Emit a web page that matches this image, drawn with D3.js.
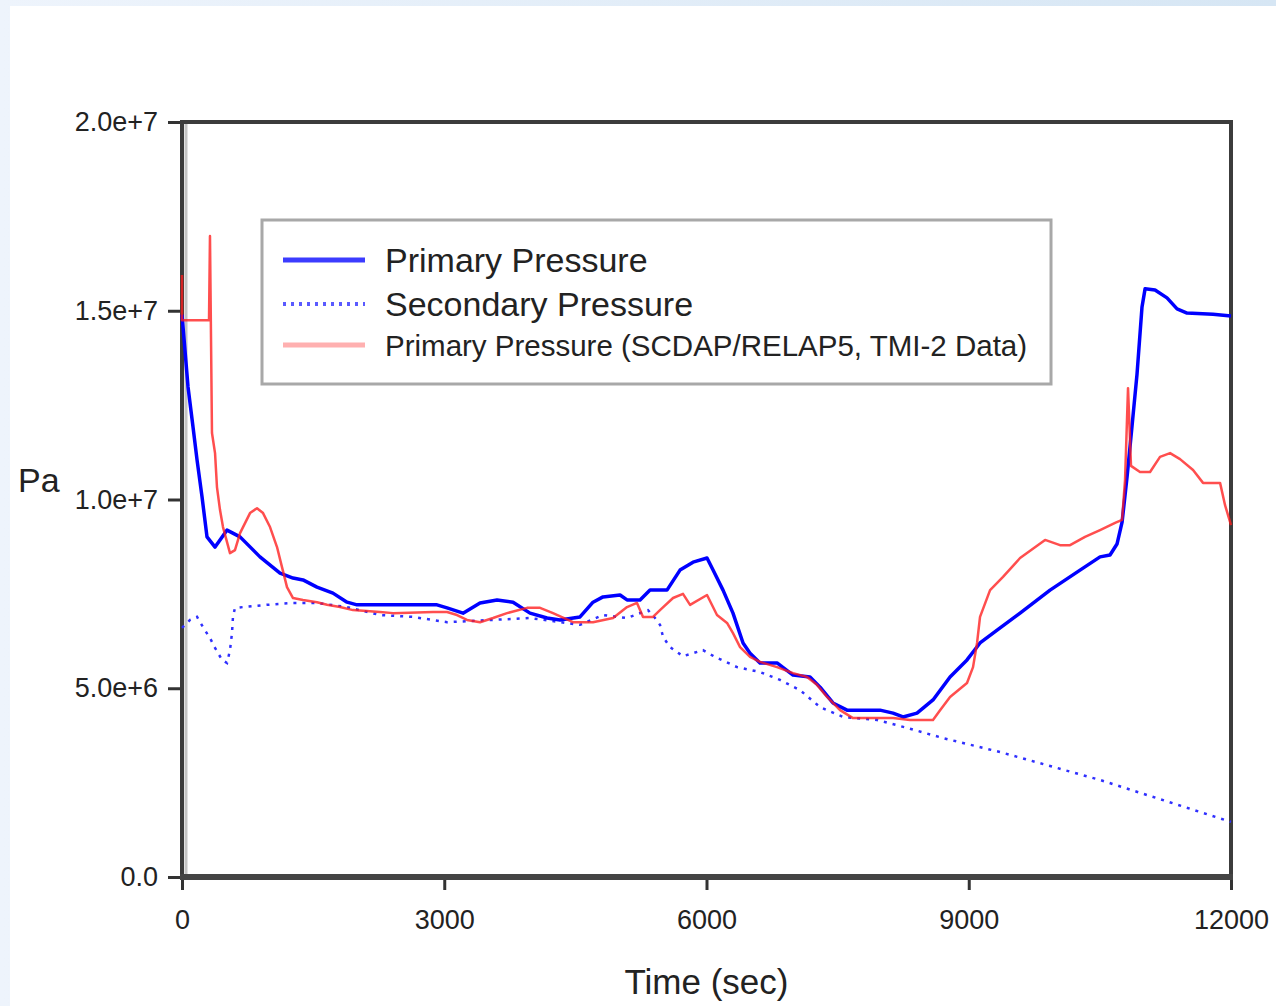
<!DOCTYPE html>
<html>
<head>
<meta charset="utf-8">
<script src="https://cdn.jsdelivr.net/npm/d3@7"></script>
<style>
  body { margin: 0; background: linear-gradient(90deg, #eef4fc, #d6e6f4); }
  #svgcontainer { width: 1276px; height: 1006px; }
  text { font-family: "Liberation Sans", Arial, sans-serif; fill: #222; }
</style>
</head>
<body>
<div id="svgcontainer"></div>
<script>
// values: [time (s), pressure (Pa)]
var primaryPressure = [
    [0, 14.9e6], [69, 12.98e6], [126, 11.92e6], [172, 11.05e6], [229, 10.07e6], [286, 9.01e6],
    [378, 8.74e6], [435, 8.93e6], [515, 9.19e6], [664, 9.01e6], [892, 8.48e6], [1121, 8.05e6],
    [1270, 7.92e6], [1384, 7.87e6], [1544, 7.68e6], [1727, 7.52e6], [1888, 7.28e6], [2002, 7.21e6],
    [2643, 7.21e6], [2917, 7.21e6], [3032, 7.13e6], [3215, 6.99e6], [3409, 7.26e6], [3604, 7.34e6],
    [3787, 7.28e6], [3981, 6.99e6], [4176, 6.86e6], [4324, 6.81e6], [4553, 6.89e6], [4702, 7.28e6],
    [4816, 7.42e6], [5011, 7.47e6], [5091, 7.34e6], [5240, 7.34e6], [5354, 7.60e6], [5548, 7.60e6],
    [5697, 8.13e6], [5846, 8.34e6], [6006, 8.45e6], [6075, 8.13e6], [6189, 7.60e6], [6303, 6.99e6],
    [6418, 6.20e6], [6498, 5.93e6], [6612, 5.67e6], [6807, 5.67e6], [6990, 5.35e6], [7184, 5.30e6],
    [7299, 5.03e6], [7447, 4.61e6], [7608, 4.42e6], [7985, 4.42e6], [8134, 4.34e6], [8248, 4.24e6],
    [8408, 4.34e6], [8591, 4.69e6], [8786, 5.30e6], [8980, 5.75e6], [9129, 6.20e6], [9324, 6.54e6],
    [9587, 6.99e6], [9930, 7.60e6], [10273, 8.13e6], [10502, 8.48e6], [10616, 8.53e6], [10696, 8.82e6],
    [10754, 9.40e6], [10811, 10.6e6], [10868, 11.95e6], [10925, 13.32e6], [10982, 15.1e6], [11017, 15.58e6],
    [11131, 15.55e6], [11268, 15.34e6], [11383, 15.05e6], [11497, 14.94e6], [11794, 14.91e6], [12000, 14.86e6]
];

var secondaryPressure = [
    [0, 6.6e6], [92, 6.81e6], [172, 6.89e6], [240, 6.62e6], [320, 6.33e6], [378, 6.07e6],
    [458, 5.75e6], [515, 5.67e6], [549, 6.01e6], [572, 6.46e6], [583, 6.89e6], [606, 7.13e6],
    [698, 7.15e6], [972, 7.21e6], [1270, 7.26e6], [1544, 7.26e6], [1888, 7.15e6], [2265, 6.94e6],
    [2643, 6.89e6], [3032, 6.75e6], [3981, 6.86e6], [4553, 6.68e6], [4816, 6.94e6], [5091, 6.86e6],
    [5331, 7.07e6], [5411, 6.86e6], [5468, 6.68e6], [5503, 6.36e6], [5583, 6.09e6], [5731, 5.85e6],
    [5960, 6.01e6], [6097, 5.83e6], [6349, 5.56e6], [6612, 5.43e6], [6841, 5.22e6], [7070, 4.95e6],
    [7299, 4.50e6], [7562, 4.24e6], [7951, 4.16e6], [8294, 3.95e6], [8706, 3.68e6], [9358, 3.31e6],
    [10502, 2.57e6], [12000, 1.46e6]
];

var scdapPressure = [
    [0, 15.95e6], [0, 14.75e6], [309, 14.75e6], [320, 16.98e6], [343, 11.76e6], [378, 11.23e6],
    [400, 10.33e6], [435, 9.72e6], [469, 9.27e6], [549, 8.58e6], [606, 8.66e6], [664, 9.11e6],
    [778, 9.64e6], [858, 9.77e6], [927, 9.64e6], [1007, 9.27e6], [1087, 8.74e6], [1144, 8.21e6],
    [1201, 7.68e6], [1270, 7.39e6], [1384, 7.34e6], [1544, 7.28e6], [1659, 7.21e6], [1808, 7.15e6],
    [1956, 7.07e6], [2265, 7.02e6], [2414, 6.99e6], [2871, 7.02e6], [3032, 7.02e6], [3146, 6.94e6],
    [3260, 6.81e6], [3409, 6.75e6], [3558, 6.86e6], [3718, 6.99e6], [3947, 7.13e6], [4096, 7.13e6],
    [4244, 6.99e6], [4473, 6.75e6], [4702, 6.75e6], [4931, 6.86e6], [5091, 7.15e6], [5205, 7.26e6],
    [5274, 6.89e6], [5388, 6.89e6], [5468, 7.07e6], [5617, 7.39e6], [5731, 7.50e6], [5812, 7.21e6],
    [6006, 7.47e6], [6120, 6.94e6], [6235, 6.73e6], [6303, 6.46e6], [6384, 6.09e6], [6498, 5.83e6],
    [6612, 5.70e6], [6807, 5.56e6], [6990, 5.40e6], [7150, 5.30e6], [7264, 5.09e6], [7379, 4.77e6],
    [7528, 4.42e6], [7676, 4.21e6], [7951, 4.21e6], [8134, 4.21e6], [8328, 4.16e6], [8591, 4.16e6],
    [8672, 4.42e6], [8786, 4.77e6], [8980, 5.14e6], [9049, 5.56e6], [9095, 6.20e6], [9129, 6.89e6],
    [9244, 7.60e6], [9392, 7.95e6], [9587, 8.45e6], [9873, 8.93e6], [10044, 8.79e6], [10159, 8.79e6],
    [10330, 9.01e6], [10502, 9.19e6], [10674, 9.38e6], [10754, 9.46e6], [10788, 10.52e6], [10822, 12.95e6],
    [10845, 11.58e6], [10856, 10.89e6], [10959, 10.73e6], [11074, 10.73e6], [11188, 11.13e6], [11303, 11.23e6],
    [11417, 11.07e6], [11566, 10.78e6], [11680, 10.44e6], [11875, 10.44e6], [11932, 9.85e6], [12000, 9.32e6]
];

var xTicks = [0, 3000, 6000, 9000, 12000];
var yTicks = [0, 5e6, 1e7, 1.5e7, 2e7];
var yTickLabels = ["0.0", "5.0e+6", "1.0e+7", "1.5e+7", "2.0e+7"];
var legendLabels = ["Primary Pressure", "Secondary Pressure", "Primary Pressure (SCDAP/RELAP5, TMI-2 Data)"];

var plotLeft = 182, plotTop = 122, plotRight = 1231, plotBottom = 877;

var svg = d3.select("#svgcontainer").append("svg")
    .attr("width", 1276)
    .attr("height", 1006);

// white card over the blue page background
svg.append("rect")
    .attr("x", 10).attr("y", 6)
    .attr("width", 1266).attr("height", 1000)
    .attr("fill", "#fff");

var x = d3.scaleLinear().domain([0, 12000]).range([plotLeft, plotRight]);
var y = d3.scaleLinear().domain([0, 2e7]).range([plotBottom, plotTop]);

var lineFunction = d3.line()
    .x(function (d) { return x(d[0]); })
    .y(function (d) { return y(d[1]); });

// axes
var yAxis = svg.append("g")
    .attr("transform", "translate(" + plotLeft + ",0)")
    .call(d3.axisLeft(y).tickValues(yTicks)
        .tickFormat(function (d, i) { return yTickLabels[i]; })
        .tickSize(14).tickPadding(10));
var xAxis = svg.append("g")
    .attr("transform", "translate(0," + plotBottom + ")")
    .call(d3.axisBottom(x).tickValues(xTicks)
        .tickFormat(function (d) { return d; })
        .tickSize(13).tickPadding(20));

[xAxis, yAxis].forEach(function (g) {
    g.select(".domain").remove();
    g.selectAll(".tick line").attr("stroke", "#333").attr("stroke-width", 3);
    g.selectAll(".tick text")
        .attr("font-size", 27)
        .attr("font-family", "Liberation Sans, Arial, sans-serif")
        .attr("fill", "#333");
});

// plot frame
svg.append("line")
    .attr("x1", plotLeft + 4).attr("x2", plotLeft + 4)
    .attr("y1", plotTop).attr("y2", plotBottom)
    .attr("stroke", "#c4c4c4").attr("stroke-width", 3);
svg.append("rect")
    .attr("x", plotLeft).attr("y", plotTop)
    .attr("width", plotRight - plotLeft).attr("height", plotBottom - plotTop)
    .attr("fill", "none")
    .attr("stroke", "#3c3c3c")
    .attr("stroke-width", 4);
svg.append("line")
    .attr("x1", plotLeft - 2).attr("x2", plotRight + 2)
    .attr("y1", plotBottom).attr("y2", plotBottom)
    .attr("stroke", "#444").attr("stroke-width", 6);

// series
svg.append("path")
    .attr("d", lineFunction(secondaryPressure))
    .attr("fill", "none")
    .attr("stroke", "#2f2fff")
    .attr("stroke-width", 2.5)
    .attr("stroke-dasharray", "3,6");
svg.append("path")
    .attr("d", lineFunction(primaryPressure))
    .attr("fill", "none")
    .attr("stroke", "#0000ff")
    .attr("stroke-width", 3.5)
    .attr("stroke-linejoin", "round");
svg.append("path")
    .attr("d", lineFunction(scdapPressure))
    .attr("fill", "none")
    .attr("stroke", "#ff1c1c")
    .attr("stroke-opacity", 0.78)
    .attr("stroke-width", 2.5)
    .attr("stroke-linejoin", "round");

// legend
var legend = svg.append("g");
legend.append("rect")
    .attr("x", 262).attr("y", 220)
    .attr("width", 789).attr("height", 164)
    .attr("fill", "#fff")
    .attr("stroke", "#a8a8a8")
    .attr("stroke-width", 3);

var legendStyles = [
    { color: "#3c3cff", width: 5, dash: null, y: 260, size: 34 },
    { color: "#5a5aff", width: 4, dash: "3,5", y: 304, size: 34 },
    { color: "#ffb0b0", width: 5, dash: null, y: 345, size: 29.5 }
];
legendLabels.forEach(function (label, i) {
    var s = legendStyles[i];
    legend.append("line")
        .attr("x1", 283).attr("x2", 365)
        .attr("y1", s.y).attr("y2", s.y)
        .attr("stroke", s.color)
        .attr("stroke-width", s.width)
        .attr("stroke-dasharray", s.dash);
    legend.append("text")
        .attr("x", 385).attr("y", s.y)
        .attr("dy", "0.36em")
        .attr("font-size", s.size)
        .text(label);
});

// axis titles
svg.append("text")
    .attr("x", 18).attr("y", 492)
    .attr("font-size", 34)
    .text("Pa");
svg.append("text")
    .attr("x", (plotLeft + plotRight) / 2).attr("y", 994)
    .attr("text-anchor", "middle")
    .attr("font-size", 35)
    .text("Time (sec)");
</script>
</body>
</html>
